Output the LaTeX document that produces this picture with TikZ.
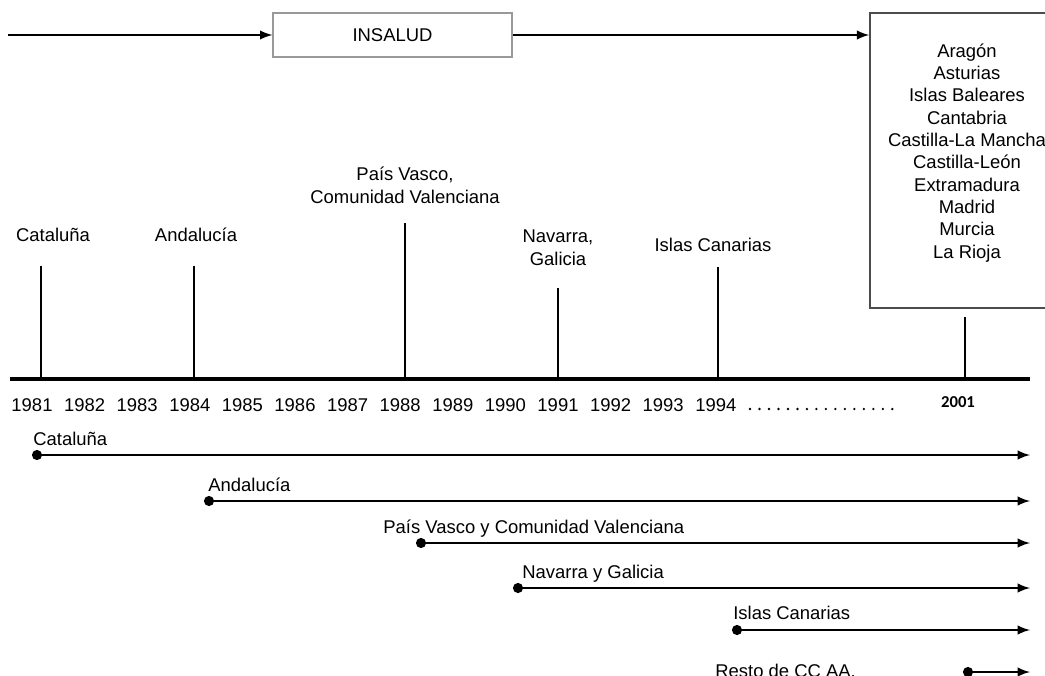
\documentclass[tikz,border=0pt]{standalone}
\usepackage{fontspec}
\setmainfont{Liberation Sans}
\newfontfamily\yearfont{Carlito}
\usetikzlibrary{arrows}

\begin{document}
\begin{tikzpicture}[x=0.02cm, y=-0.02cm, font=\fontsize{10.5}{12.7}\selectfont]
	\tikzstyle{line} = [line width=1.4pt,>=latex]
	\tikzstyle{tick} = [line width=1.3pt]
	\tikzstyle{axis} = [line width=1.8pt]
	\tikzstyle{lbl} = [inner sep=0pt, anchor=base]
	\tikzstyle{blbl} = [inner sep=0pt, anchor=base west]
	\tikzstyle{dot} = [circle, fill=black, inner sep=0pt, minimum size=5.8pt]
	\tikzstyle{ibox} = [draw=black!40, line width=0.8pt, minimum width=4.78cm, minimum height=0.88cm, inner sep=0pt]
	\tikzstyle{rbox} = [draw=black!70, line width=0.9pt, minimum width=3.88cm, minimum height=5.9cm, inner sep=0pt]
	\useasboundingbox (0,0) rectangle (1045,676);
	% INSALUD
	\coordinate(start) at (8,35);
	\node(insalud)[ibox] at (392.5,35) {INSALUD};
	\node(rbox)[rbox] at (967,160.5) {};
	\node(rlist)[lbl, align=center] at (967,258) {Aragón\\Asturias\\Islas Baleares\\Cantabria\\Castilla-La Mancha\\Castilla-León\\Extramadura\\Madrid\\Murcia\\La Rioja};
	\draw[line,->](start) -- (insalud);
	\draw[line,->](insalud.east) -- (insalud.east -| rbox.west);
	% timeline
	\coordinate(a0) at (10,379);
	\coordinate(a1) at (1030,379);
	\draw[axis](a0) -- (a1);
	\draw[tick](41,379) -- (41,266);
	\draw[tick](194,379) -- (194,266);
	\draw[tick](405,379) -- (405,223);
	\draw[tick](558,379) -- (558,288);
	\draw[tick](718,379) -- (718,267);
	\draw[tick](965,379) -- (965,317);
	\node(tcat)[lbl] at (53,241) {Cataluña};
	\node(tand)[lbl] at (196,241) {Andalucía};
	\node(tpv)[lbl, align=center] at (405,203) {País Vasco,\\Comunidad Valenciana};
	\node(tnav)[lbl, align=center] at (558,265) {Navarra,\\Galicia};
	\node(tcan)[lbl] at (713,251) {Islas Canarias};
	\foreach \i in {0,...,13} {
		\pgfmathtruncatemacro{\yr}{1981+\i}
		\node(y\yr)[lbl] at (32+52.6*\i,411) {\yr};
	}
	\draw[line width=1.5pt, line cap=round, dash pattern=on 0pt off 5.4pt](750,409) -- (901,409);
	\node(y2001)[lbl, font=\yearfont\bfseries\fontsize{9.5}{11}\selectfont] at (958,407) {2001};
	% transfers
	\node(dcat)[dot] at (37,455) {};
	\coordinate(ecat) at (1030,455);
	\node(bcat)[blbl] at (33,445) {Cataluña};
	\draw[line,->](dcat) -- (ecat);
	\node(dand)[dot] at (209,501) {};
	\coordinate(eand) at (1030,501);
	\node(band)[blbl] at (208,491) {Andalucía};
	\draw[line,->](dand) -- (eand);
	\node(dpv)[dot] at (421,543) {};
	\coordinate(epv) at (1030,543);
	\node(bpv)[blbl] at (383,533) {País Vasco y Comunidad Valenciana};
	\draw[line,->](dpv) -- (epv);
	\node(dnav)[dot] at (518,588) {};
	\coordinate(enav) at (1030,588);
	\node(bnav)[blbl] at (522,578) {Navarra y Galicia};
	\draw[line,->](dnav) -- (enav);
	\node(dcan)[dot] at (737,630) {};
	\coordinate(ecan) at (1030,630);
	\node(bcan)[blbl] at (733,619) {Islas Canarias};
	\draw[line,->](dcan) -- (ecan);
	\node(drest)[dot] at (968,672) {};
	\coordinate(erest) at (1030,672);
	\node(brest)[blbl] at (715,677) {Resto de CC AA.};
	\draw[line,->](drest) -- (erest);
\end{tikzpicture}
\end{document}
